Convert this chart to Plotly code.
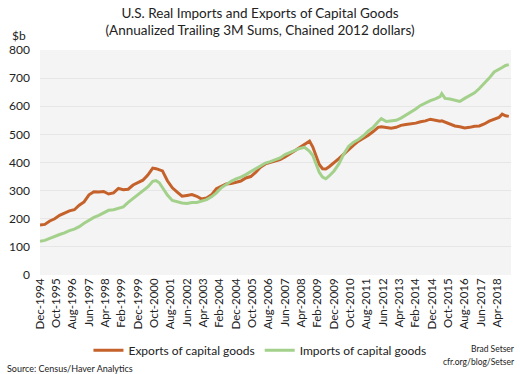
import plotly.graph_objects as go

dates = ["1994-12","1995-03","1995-06","1995-09","1995-12","1996-03","1996-06","1996-09","1996-12",
         "1997-03","1997-06","1997-09","1997-12","1998-03","1998-06","1998-09","1998-12",
         "1999-03","1999-06","1999-09","1999-12","2000-03","2000-06","2000-09","2000-11",
         "2001-01","2001-03","2001-06","2001-09","2001-12","2002-03","2002-06","2002-09","2002-12",
         "2003-03","2003-06","2003-09","2003-12","2004-03","2004-06","2004-09","2004-12",
         "2005-03","2005-06","2005-09","2005-12","2006-03","2006-06","2006-09","2006-12",
         "2007-03","2007-06","2007-09","2007-12","2008-03","2008-06","2008-09","2008-11",
         "2009-01","2009-03","2009-05","2009-07","2009-09","2009-12","2010-03","2010-06","2010-09","2010-12",
         "2011-03","2011-06","2011-09","2011-12","2012-03","2012-05","2012-08","2012-11",
         "2013-02","2013-05","2013-08","2013-11","2014-02","2014-05","2014-08","2014-11",
         "2015-02","2015-05","2015-06","2015-08","2015-11","2016-02","2016-05","2016-08","2016-11",
         "2017-02","2017-05","2017-08","2017-11","2018-02","2018-05","2018-07","2018-09","2018-11"]

exports = [178,180,192,200,212,220,228,232,248,
           260,285,296,295,297,288,292,308,
           303,305,320,328,337,355,380,378,
           375,370,335,310,295,280,283,286,280,
           270,274,285,307,316,324,325,330,
           334,345,350,365,383,395,400,405,
           410,420,430,442,453,465,476,455,
           425,393,378,377,385,398,414,430,447,462,
           476,485,497,510,525,527,525,522,
           525,532,535,537,540,545,548,554,
           550,547,548,543,538,530,527,523,525,
           529,530,537,547,553,560,572,566,564]

imports = [120,123,130,138,144,150,158,163,172,
           184,195,205,212,222,230,232,236,
           242,258,272,284,298,313,333,336,
           328,310,284,265,260,256,254,258,258,
           262,268,278,292,310,322,333,342,
           348,357,368,378,389,398,403,410,
           416,428,436,442,450,454,440,425,
           395,365,348,342,352,370,395,430,458,472,
           482,495,512,525,545,556,546,547,
           550,558,568,578,590,603,612,620,
           626,634,645,628,626,622,617,628,638,
           648,663,680,700,722,733,738,745,748]

fig = go.Figure()
fig.add_trace(go.Scatter(x=dates, y=exports, mode="lines", name="Exports of capital goods",
                         line=dict(color="#c5622b", width=3)))
fig.add_trace(go.Scatter(x=dates, y=imports, mode="lines", name="Imports of capital goods",
                         line=dict(color="#a3d18b", width=3)))

font_family = "Lato, 'Open Sans', sans-serif"

fig.update_layout(
    width=520, height=374,
    margin=dict(l=40, r=9, t=50, b=96),
    paper_bgcolor="white",
    plot_bgcolor="#f4f4f4",
    font=dict(family=font_family, color="#222222", size=12),
    title=dict(text="U.S. Real Imports and Exports of Capital Goods<br>(Annualized Trailing 3M Sums, Chained 2012 dollars)",
               x=0.5, xanchor="center", y=0.953, yanchor="top",
               font=dict(size=13.5, family=font_family, color="#222222")),
    showlegend=True,
    legend=dict(orientation="h", x=0.467, xanchor="center", y=-0.27, yanchor="top",
                font=dict(size=12, family=font_family, color="#222222"),
                itemwidth=30, bgcolor="rgba(0,0,0,0)", tracegroupgap=0),
    xaxis=dict(type="date", range=["1994-12-01", "2018-12-12"],
               tick0="1994-12-01", dtick="M10", tickformat="%b-%Y",
               tickangle=-90, showgrid=False, zeroline=False, showline=False,
               ticks="", tickfont=dict(size=11.5, color="#222222")),
    yaxis=dict(range=[0, 800], dtick=100, showgrid=True, gridcolor="#e6e6e6",
               gridwidth=1, zeroline=False, showline=False, ticks="",
               ticklabelstandoff=9,
               tickfont=dict(size=12, color="#222222")),
)

fig.add_annotation(text="$b", xref="paper", yref="paper", x=-0.045, y=1.022,
                   xanchor="center", yanchor="bottom", showarrow=False,
                   font=dict(size=12, family=font_family, color="#222222"))
fig.add_annotation(text="Source: Census/Haver Analytics", xref="paper", yref="paper",
                   x=-0.075, y=-0.415, xanchor="left", yanchor="middle", showarrow=False,
                   font=dict(size=9, family=font_family, color="#222222"))
fig.add_annotation(text="Brad Setser", xref="paper", yref="paper",
                   x=1.012, y=-0.33, xanchor="right", yanchor="middle", showarrow=False,
                   font=dict(size=8.5, family=font_family, color="#222222"))
fig.add_annotation(text="cfr.org/blog/Setser", xref="paper", yref="paper",
                   x=1.012, y=-0.385, xanchor="right", yanchor="middle", showarrow=False,
                   font=dict(size=8.5, family=font_family, color="#222222"))

fig.write_html("out.html", config={"displayModeBar": False},
               post_script="document.body.style.margin='0';document.body.style.overflow='hidden';")
